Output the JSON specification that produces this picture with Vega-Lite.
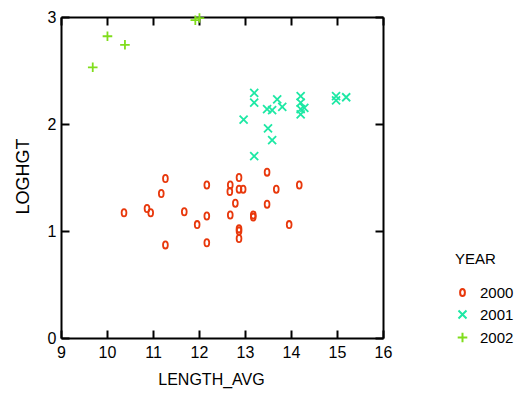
{
  "$schema": "https://vega.github.io/schema/vega-lite/v6.json",
  "width": 322,
  "height": 321,
  "autosize": "none",
  "padding": {"left": 61, "top": 17, "right": 138, "bottom": 55},
  "background": "white",
  "config": {
    "view": {"stroke": null},
    "font": "Liberation Sans",
    "axis": {
      "domainColor": "black", "domainWidth": 2,
      "tickColor": "black", "tickWidth": 2, "tickSize": -8,
      "grid": false,
      "labelColor": "black", "labelFontSize": 16, "labelFont": "Liberation Sans",
      "titleColor": "black", "titleFontSize": 16, "titleFontWeight": "normal", "titleFont": "Liberation Sans"
    },
    "legend": {
      "labelFontSize": 15, "titleFontSize": 15, "titleFontWeight": "normal",
      "labelColor": "black", "titleColor": "black", "labelFont": "Liberation Sans", "titleFont": "Liberation Sans"
    }
  },
  "data": {
    "values": [
      {"LENGTH_AVG": 10.37, "LOGHGT": 1.17, "YEAR": "2000"},
      {"LENGTH_AVG": 10.87, "LOGHGT": 1.21, "YEAR": "2000"},
      {"LENGTH_AVG": 10.95, "LOGHGT": 1.17, "YEAR": "2000"},
      {"LENGTH_AVG": 11.27, "LOGHGT": 1.49, "YEAR": "2000"},
      {"LENGTH_AVG": 11.18, "LOGHGT": 1.35, "YEAR": "2000"},
      {"LENGTH_AVG": 11.27, "LOGHGT": 0.87, "YEAR": "2000"},
      {"LENGTH_AVG": 11.68, "LOGHGT": 1.18, "YEAR": "2000"},
      {"LENGTH_AVG": 11.96, "LOGHGT": 1.06, "YEAR": "2000"},
      {"LENGTH_AVG": 12.17, "LOGHGT": 1.43, "YEAR": "2000"},
      {"LENGTH_AVG": 12.17, "LOGHGT": 1.14, "YEAR": "2000"},
      {"LENGTH_AVG": 12.17, "LOGHGT": 0.89, "YEAR": "2000"},
      {"LENGTH_AVG": 12.68, "LOGHGT": 1.43, "YEAR": "2000"},
      {"LENGTH_AVG": 12.67, "LOGHGT": 1.37, "YEAR": "2000"},
      {"LENGTH_AVG": 12.68, "LOGHGT": 1.15, "YEAR": "2000"},
      {"LENGTH_AVG": 12.79, "LOGHGT": 1.26, "YEAR": "2000"},
      {"LENGTH_AVG": 12.87, "LOGHGT": 1.50, "YEAR": "2000"},
      {"LENGTH_AVG": 12.87, "LOGHGT": 1.39, "YEAR": "2000"},
      {"LENGTH_AVG": 12.96, "LOGHGT": 1.39, "YEAR": "2000"},
      {"LENGTH_AVG": 12.87, "LOGHGT": 1.02, "YEAR": "2000"},
      {"LENGTH_AVG": 12.87, "LOGHGT": 1.00, "YEAR": "2000"},
      {"LENGTH_AVG": 12.87, "LOGHGT": 0.93, "YEAR": "2000"},
      {"LENGTH_AVG": 13.18, "LOGHGT": 1.15, "YEAR": "2000"},
      {"LENGTH_AVG": 13.18, "LOGHGT": 1.13, "YEAR": "2000"},
      {"LENGTH_AVG": 13.48, "LOGHGT": 1.55, "YEAR": "2000"},
      {"LENGTH_AVG": 13.48, "LOGHGT": 1.25, "YEAR": "2000"},
      {"LENGTH_AVG": 13.68, "LOGHGT": 1.39, "YEAR": "2000"},
      {"LENGTH_AVG": 13.96, "LOGHGT": 1.06, "YEAR": "2000"},
      {"LENGTH_AVG": 14.18, "LOGHGT": 1.43, "YEAR": "2000"},
      {"LENGTH_AVG": 13.2, "LOGHGT": 2.29, "YEAR": "2001"},
      {"LENGTH_AVG": 13.2, "LOGHGT": 2.20, "YEAR": "2001"},
      {"LENGTH_AVG": 13.70, "LOGHGT": 2.23, "YEAR": "2001"},
      {"LENGTH_AVG": 14.21, "LOGHGT": 2.26, "YEAR": "2001"},
      {"LENGTH_AVG": 14.21, "LOGHGT": 2.20, "YEAR": "2001"},
      {"LENGTH_AVG": 14.21, "LOGHGT": 2.14, "YEAR": "2001"},
      {"LENGTH_AVG": 14.21, "LOGHGT": 2.09, "YEAR": "2001"},
      {"LENGTH_AVG": 14.29, "LOGHGT": 2.15, "YEAR": "2001"},
      {"LENGTH_AVG": 13.48, "LOGHGT": 2.14, "YEAR": "2001"},
      {"LENGTH_AVG": 13.59, "LOGHGT": 2.13, "YEAR": "2001"},
      {"LENGTH_AVG": 13.81, "LOGHGT": 2.16, "YEAR": "2001"},
      {"LENGTH_AVG": 12.97, "LOGHGT": 2.04, "YEAR": "2001"},
      {"LENGTH_AVG": 13.50, "LOGHGT": 1.96, "YEAR": "2001"},
      {"LENGTH_AVG": 13.59, "LOGHGT": 1.85, "YEAR": "2001"},
      {"LENGTH_AVG": 13.2, "LOGHGT": 1.70, "YEAR": "2001"},
      {"LENGTH_AVG": 14.98, "LOGHGT": 2.26, "YEAR": "2001"},
      {"LENGTH_AVG": 14.98, "LOGHGT": 2.22, "YEAR": "2001"},
      {"LENGTH_AVG": 15.20, "LOGHGT": 2.25, "YEAR": "2001"},
      {"LENGTH_AVG": 10.01, "LOGHGT": 2.82, "YEAR": "2002"},
      {"LENGTH_AVG": 10.39, "LOGHGT": 2.74, "YEAR": "2002"},
      {"LENGTH_AVG": 9.69, "LOGHGT": 2.53, "YEAR": "2002"},
      {"LENGTH_AVG": 11.92, "LOGHGT": 2.97, "YEAR": "2002"},
      {"LENGTH_AVG": 12.01, "LOGHGT": 2.99, "YEAR": "2002"}
    ]
  },
  "layer": [
    {
      "mark": {"type": "point", "filled": false, "strokeWidth": 1.8, "size": 64, "opacity": 1},
      "encoding": {
        "x": {
          "field": "LENGTH_AVG", "type": "quantitative",
          "scale": {"domain": [9, 16], "nice": false, "zero": false},
          "axis": {"orient": "bottom", "values": [9, 10, 11, 12, 13, 14, 15, 16], "labelPadding": 14, "titlePadding": 11, "title": "LENGTH_AVG", "titleX": 150, "labelFlush": false}
        },
        "y": {
          "field": "LOGHGT", "type": "quantitative",
          "scale": {"domain": [0, 3], "nice": false, "zero": false},
          "axis": {"orient": "left", "values": [0, 1, 2, 3], "labelPadding": 13, "titlePadding": 15, "title": "LOGHGT", "titleFontSize": 18, "titleY": 159, "labelFlush": false}
        },
        "color": {
          "field": "YEAR", "type": "nominal",
          "scale": {"domain": ["2000", "2001", "2002"], "range": ["#e8380c", "#1de8a4", "#80dd1c"]},
          "legend": {"title": "YEAR", "orient": "none", "legendX": 394, "legendY": 235, "symbolStrokeWidth": 2, "symbolSize": 64, "rowPadding": 5, "titlePadding": 18, "labelOffset": 10}
        },
        "shape": {
          "field": "YEAR", "type": "nominal",
          "scale": {"domain": ["2000", "2001", "2002"], "range": [
            "M-0.6,0A0.6,0.9 0 1,0 0.6,0A0.6,0.9 0 1,0 -0.6,0Z",
            "M-1,-1L1,1M-1,1L1,-1",
            "M-1.2,0L1.2,0M0,-1.2L0,1.2"
          ]}
        }
      }
    },
    {
      "mark": {"type": "point", "opacity": 0},
      "encoding": {
        "x": {
          "field": "LENGTH_AVG", "type": "quantitative",
          "axis": {"orient": "top", "values": [9, 10, 11, 12, 13, 14, 15, 16], "labels": false, "title": null}
        },
        "y": {
          "field": "LOGHGT", "type": "quantitative",
          "axis": {"orient": "right", "values": [0, 1, 2, 3], "labels": false, "title": null}
        }
      }
    }
  ],
  "resolve": {"axis": {"x": "independent", "y": "independent"}}
}
